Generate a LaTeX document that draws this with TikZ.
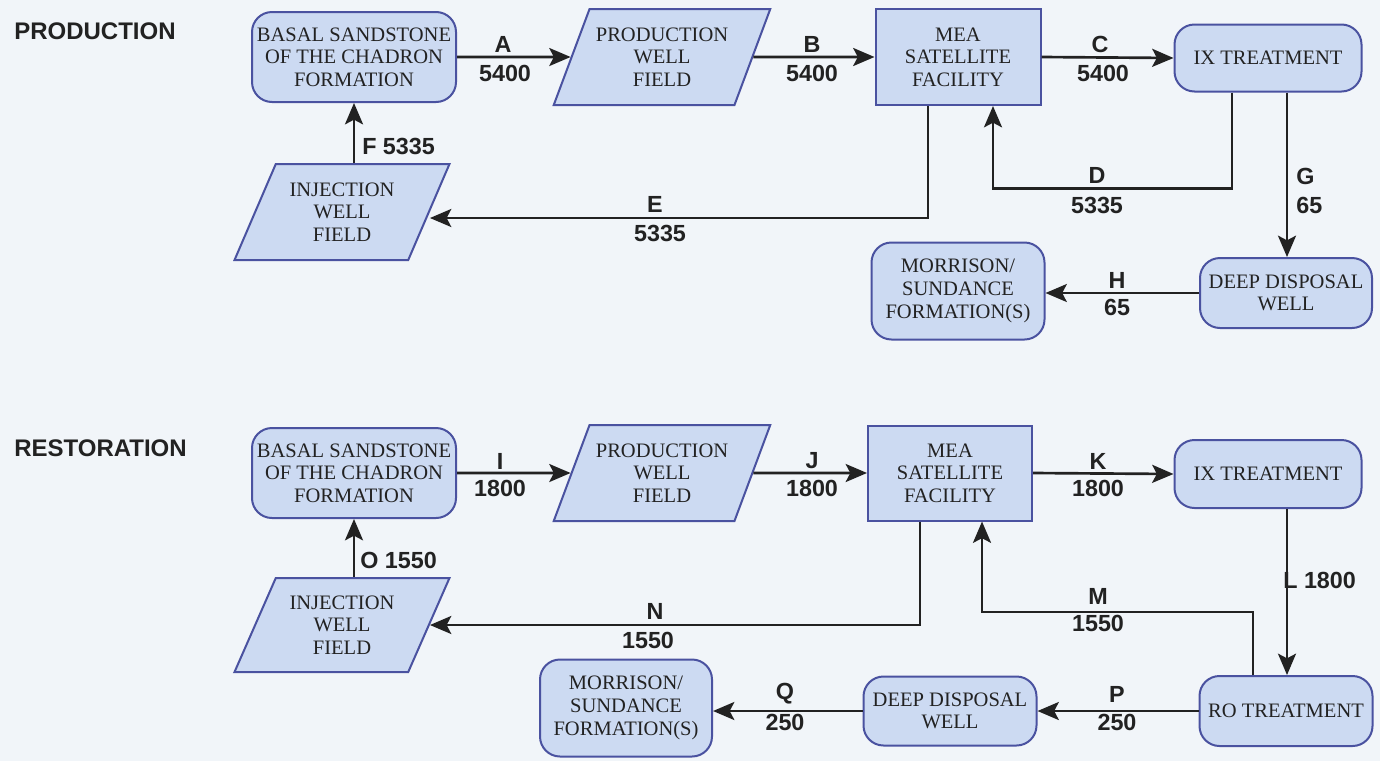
\documentclass[tikz,border=0pt]{standalone}
\usepackage{fontspec}
\setmainfont{Liberation Serif}
\newfontfamily\labfont{Liberation Sans}
\usetikzlibrary{shapes.geometric,arrows.meta,calc}
\definecolor{bg}{HTML}{F1F5F9}
\definecolor{boxfill}{HTML}{CCDAF2}
\definecolor{boxline}{HTML}{4A52A0}
\definecolor{ink}{HTML}{222222}
\begin{document}
\begin{tikzpicture}[x=0.75pt,y=-0.75pt,
  box/.style={draw=boxline, fill=boxfill, line width=1.5pt, align=center, text=ink,
              font=\fontsize{15.4}{17}\selectfont, inner sep=0pt},
  rbox/.style={box, rectangle, rounded corners=15pt},
  sbox/.style={box, rectangle},
  pbox/.style={box, trapezium, trapezium left angle=61, trapezium right angle=119,
               trapezium stretches=true},
  arr/.style={line width=2pt, draw=ink, -{Stealth[length=16pt,width=13.5pt,inset=3.5pt]}},
  lbl/.style={font=\labfont\bfseries\fontsize{17.5}{20}\selectfont, text=ink, inner sep=0pt},
  ttl/.style={font=\labfont\bfseries\fontsize{18}{20}\selectfont, text=ink, inner sep=0pt, anchor=west}
]
\fill[bg] (0,0) rectangle (1380,761);
\useasboundingbox (0,0) rectangle (1380,761);

% ---------- PRODUCTION ----------
\node[ttl] (tprod) at (14,31) {PRODUCTION};
\node[rbox, minimum width=153pt, minimum height=67.5pt] (basal) at (354,57) {BASAL SANDSTONE\\OF THE CHADRON\\FORMATION};
\node[pbox, minimum width=162.75pt, minimum height=72pt] (pw) at (662,57) {PRODUCTION\\WELL\\FIELD};
\node[sbox, minimum width=123.75pt, minimum height=72pt] (mea) at (958,57) {MEA\\SATELLITE\\FACILITY};
\node[rbox, minimum width=140.25pt, minimum height=50.25pt] (ix) at (1268,58) {IX TREATMENT};
\node[pbox, minimum width=161.25pt, minimum height=72pt] (inj) at (342,212) {INJECTION\\WELL\\FIELD};
\node[rbox, minimum width=129pt, minimum height=52.5pt] (dd) at (1286,293) {DEEP DISPOSAL\\WELL};
\node[rbox, minimum width=129.75pt, minimum height=72.75pt] (mor) at (958,291) {MORRISON/\\SUNDANCE\\FORMATION(S)};

\draw[arr] (basal.east) -- (pw.west);
\draw[arr] (pw.east) -- (mea.west);
\draw[arr] (mea.east) -- (ix.west);
\draw[arr] ([xshift=-27pt]ix.south) -- ++(0,96) -| ([xshift=26.25pt]mea.south);
\draw[arr] ([xshift=-22.5pt]mea.south) |- ([yshift=-4.5pt]inj.east);
\draw[arr] (basal.south |- inj.north) -- (basal.south);
\draw[arr] ([xshift=14.25pt]ix.south) -- ([xshift=14.25pt]ix.south |- dd.north);
\draw[arr] (dd.west) -- (dd.west -| mor.east);

\node[lbl] (lA) at (503,44) {A};
\node[lbl] (vA) at (505,73) {5400};
\node[lbl] (lB) at (812,44) {B};
\node[lbl] (vB) at (812,73) {5400};
\node[lbl] (lC) at (1100,44) {C};
\node[lbl] (vC) at (1103,73) {5400};
\node[lbl] (lD) at (1097,175) {D};
\node[lbl] (vD) at (1097,205) {5335};
\node[lbl] (lE) at (655,204) {E};
\node[lbl] (vE) at (660,233) {5335};
\node[lbl, anchor=west] (lF) at (362,146) {F 5335};
\node[lbl, anchor=west] (lG) at (1296,176) {G};
\node[lbl, anchor=west] (vG) at (1296,205) {65};
\node[lbl] (lH) at (1117,280) {H};
\node[lbl] (vH) at (1117,307) {65};

% ---------- RESTORATION ----------
\node[ttl] (trest) at (14,448) {RESTORATION};
\node[rbox, minimum width=153pt, minimum height=67.5pt] (basal2) at (354,473) {BASAL SANDSTONE\\OF THE CHADRON\\FORMATION};
\node[pbox, minimum width=162.75pt, minimum height=72pt] (pw2) at (662,473) {PRODUCTION\\WELL\\FIELD};
\node[sbox, minimum width=123pt, minimum height=71.25pt] (mea2) at (950,473) {MEA\\SATELLITE\\FACILITY};
\node[rbox, minimum width=140.25pt, minimum height=51pt] (ix2) at (1268,474) {IX TREATMENT};
\node[pbox, minimum width=161.25pt, minimum height=70.5pt] (inj2) at (342,625) {INJECTION\\WELL\\FIELD};
\node[rbox, minimum width=129.75pt, minimum height=52.5pt] (ro) at (1286,711) {RO TREATMENT};
\node[rbox, minimum width=129.75pt, minimum height=51.75pt] (dd2) at (950,711) {DEEP DISPOSAL\\WELL};
\node[rbox, minimum width=129pt, minimum height=72.75pt] (mor2) at (626,708) {MORRISON/\\SUNDANCE\\FORMATION(S)};

\draw[arr] (basal2.east) -- (pw2.west);
\draw[arr] (pw2.east) -- (mea2.west);
\draw[arr] (mea2.east) -- (ix2.west);
\draw[arr] ([xshift=14.25pt]ix2.south) -- ([xshift=14.25pt]ix2.south |- ro.north);
\draw[arr] ([xshift=-24.75pt]ro.north) -- ++(0,-63) -| ([xshift=24pt]mea2.south);
\draw[arr] ([xshift=-22.5pt]mea2.south) |- (inj2.east);
\draw[arr] (basal2.south |- inj2.north) -- (basal2.south);
\draw[arr] (ro.west) -- (ro.west -| dd2.east);
\draw[arr] (dd2.west) -- (dd2.west -| mor2.east);

\node[lbl] (lI) at (500,461) {I};
\node[lbl] (vI) at (500,488) {1800};
\node[lbl] (lJ) at (812,461) {J};
\node[lbl] (vJ) at (812,488) {1800};
\node[lbl] (lK) at (1098,461) {K};
\node[lbl] (vK) at (1098,488) {1800};
\node[lbl, anchor=west] (lL) at (1283,580) {L 1800};
\node[lbl] (lM) at (1098,596) {M};
\node[lbl] (vM) at (1098,623) {1550};
\node[lbl] (lN) at (655,611) {N};
\node[lbl] (vN) at (648,640) {1550};
\node[lbl, anchor=west] (lO) at (360,560) {O 1550};
\node[lbl] (lP) at (1117,694) {P};
\node[lbl] (vP) at (1117,722) {250};
\node[lbl] (lQ) at (785,694) {Q};
\node[lbl] (vQ) at (785,722) {250};
\end{tikzpicture}
\end{document}
